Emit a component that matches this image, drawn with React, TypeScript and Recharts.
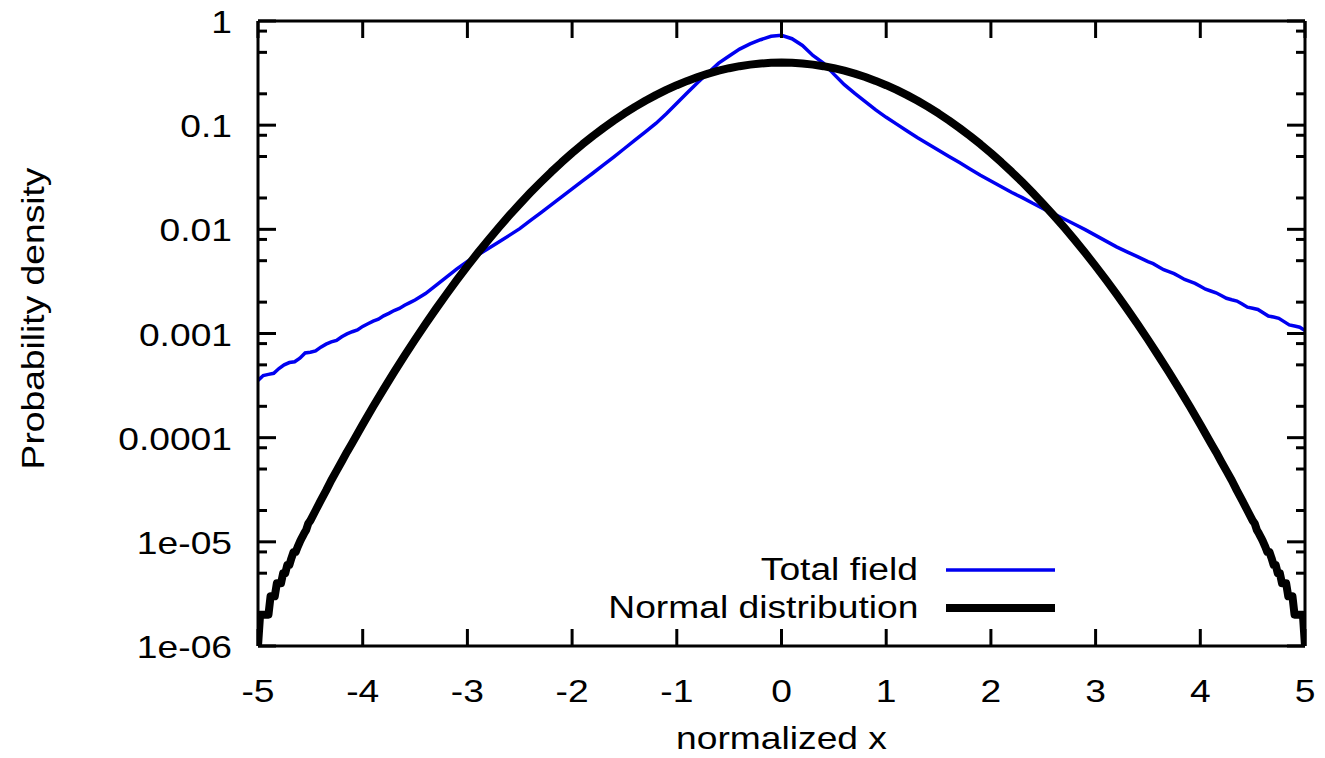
import React from 'react';
import { LineChart, Line, XAxis, YAxis, Legend } from 'recharts';

const FONT = '"Liberation Sans", Arial, Helvetica, sans-serif';
const FS = 31;
const SX = 1.2;
const M = 10; // tick margin used to locate the axis line inside custom ticks

const xTicks = [-5, -4, -3, -2, -1, 0, 1, 2, 3, 4, 5];
const yMajorTicks = [1e-6, 1e-5, 1e-4, 1e-3, 1e-2, 1e-1, 1];
const yTickLabels = ['1e-06', '1e-05', '0.0001', '0.001', '0.01', '0.1', '1'];
const yMinorTicks = [
  2e-6, 5e-6, 8e-6, 2e-5, 5e-5, 8e-5, 2e-4, 5e-4, 8e-4,
  2e-3, 5e-3, 8e-3, 0.02, 0.05, 0.08, 0.2, 0.5, 0.8,
];
const yAllTicks = [...yMajorTicks, ...yMinorTicks].sort((a, b) => a - b);

const seriesNames = ['Total field', 'Normal distribution'];

// Series 1: "Total field"
const fieldX = [
  -5, -4.95, -4.9, -4.85, -4.8, -4.75, -4.7, -4.65, -4.6, -4.55, -4.5, -4.45, -4.4, -4.35, -4.3, -4.25,
  -4.2, -4.15, -4.1, -4.05, -4, -3.95, -3.9, -3.85, -3.8, -3.75, -3.7, -3.65, -3.6, -3.55, -3.5,
  -3.4, -3.3, -3.2, -3.1, -3, -2.9, -2.8, -2.7, -2.6, -2.5, -2.4, -2.3, -2.2, -2.1, -2,
  -1.9, -1.8, -1.7, -1.6, -1.5, -1.4, -1.3, -1.2, -1.1, -1, -0.9, -0.8, -0.7, -0.6, -0.5,
  -0.4, -0.3, -0.2, -0.1, 0, 0.1, 0.2, 0.3, 0.4, 0.5, 0.6, 0.7, 0.8, 0.9, 1,
  1.1, 1.2, 1.3, 1.4, 1.5, 1.6, 1.7, 1.8, 1.9, 2, 2.1, 2.2, 2.3, 2.4, 2.5,
  2.6, 2.7, 2.8, 2.9, 3, 3.1, 3.2, 3.3, 3.4,
  3.5, 3.55, 3.6, 3.65, 3.7, 3.75, 3.8, 3.85, 3.9, 3.95, 4, 4.05, 4.1, 4.15, 4.2, 4.25,
  4.3, 4.35, 4.4, 4.45, 4.5, 4.55, 4.6, 4.65, 4.7, 4.75, 4.8, 4.85, 4.9, 4.95, 5,
];
const fieldY = [
  3.55e-4, 3.95e-4, 4.05e-4, 4.15e-4, 4.61e-4, 5.0e-4, 5.26e-4, 5.35e-4, 5.8e-4, 6.5e-4, 6.61e-4, 6.8e-4, 7.4e-4, 7.9e-4, 8.3e-4, 8.6e-4,
  9.31e-4, 0.99e-3, 1.04e-3, 1.08e-3, 1.17e-3, 1.24e-3, 1.315e-3, 1.37e-3, 1.476e-3, 1.56e-3, 1.66e-3, 1.74e-3, 1.866e-3, 1.98e-3, 2.1e-3,
  2.42e-3, 2.9e-3, 3.48e-3, 4.18e-3, 4.91e-3, 5.68e-3, 6.56e-3, 7.57e-3, 8.75e-3, 0.01016, 0.0121, 0.01442, 0.01718, 0.02046, 0.02443,
  0.02917, 0.03475, 0.0415, 0.0497, 0.0597, 0.0718, 0.0863, 0.1038, 0.1285, 0.1626, 0.2051, 0.257, 0.318, 0.394, 0.461,
  0.537, 0.603, 0.661, 0.714, 0.729, 0.676, 0.582, 0.467, 0.394, 0.309, 0.245, 0.2018, 0.1683, 0.1403, 0.1189,
  0.1023, 0.0879, 0.0759, 0.0661, 0.0575, 0.0501, 0.0437, 0.038, 0.0331, 0.0291, 0.0256, 0.02254, 0.02014, 0.01778, 0.01581,
  0.01409, 0.01256, 0.01119, 0.00993, 0.00875, 0.00771, 0.00679, 0.00608, 0.00546,
  4.89e-3, 4.68e-3, 4.38e-3, 4.1e-3, 3.92e-3, 3.75e-3, 3.52e-3, 3.3e-3, 3.16e-3, 3.03e-3, 2.84e-3, 2.66e-3, 2.56e-3, 2.46e-3, 2.32e-3, 2.18e-3,
  2.11e-3, 2.05e-3, 1.92e-3, 1.79e-3, 1.75e-3, 1.7e-3, 1.58e-3, 1.47e-3, 1.44e-3, 1.4e-3, 1.3e-3, 1.21e-3, 1.18e-3, 1.15e-3, 1.07e-3,
];

// Series 2: "Normal distribution" (values as printed, 6 decimals)
const normalX = [
  -5, -4.98, -4.96, -4.94, -4.92, -4.9, -4.88, -4.86, -4.84, -4.82, -4.8, -4.78, -4.76, -4.74, -4.72, -4.7,
  -4.68, -4.66, -4.64, -4.62, -4.6, -4.58, -4.56, -4.54, -4.52, -4.5,
  -4.45, -4.4, -4.35, -4.3, -4.25, -4.2, -4.15, -4.1, -4.05, -4,
  -3.9, -3.8, -3.7, -3.6, -3.5, -3.4, -3.3, -3.2, -3.1, -3, -2.9, -2.8, -2.7, -2.6, -2.5, -2.4, -2.3, -2.2, -2.1, -2,
  -1.9, -1.8, -1.7, -1.6, -1.5, -1.4, -1.3, -1.2, -1.1, -1, -0.9, -0.8, -0.7, -0.6, -0.5, -0.4, -0.3, -0.2, -0.1, 0,
  0.1, 0.2, 0.3, 0.4, 0.5, 0.6, 0.7, 0.8, 0.9, 1, 1.1, 1.2, 1.3, 1.4, 1.5, 1.6, 1.7, 1.8, 1.9, 2,
  2.1, 2.2, 2.3, 2.4, 2.5, 2.6, 2.7, 2.8, 2.9, 3, 3.1, 3.2, 3.3, 3.4, 3.5, 3.6, 3.7, 3.8, 3.9,
  4, 4.05, 4.1, 4.15, 4.2, 4.25, 4.3, 4.35, 4.4, 4.45,
  4.5, 4.52, 4.54, 4.56, 4.58, 4.6, 4.62, 4.64, 4.66, 4.68, 4.7, 4.72, 4.74, 4.76, 4.78, 4.8,
  4.82, 4.84, 4.86, 4.88, 4.9, 4.92, 4.94, 4.96, 4.98, 5,
];
const normalY = [
  1e-6, 2e-6, 2e-6, 2e-6, 2e-6, 2e-6, 3e-6, 3e-6, 3e-6, 4e-6, 4e-6, 4e-6, 5e-6, 5e-6, 6e-6, 6e-6,
  7e-6, 8e-6, 8e-6, 9e-6, 1e-5, 1.1e-5, 1.2e-5, 1.3e-5, 1.5e-5, 1.6e-5,
  2e-5, 2.5e-5, 3.1e-5, 3.9e-5, 4.8e-5, 5.9e-5, 7.3e-5, 8.9e-5, 1.09e-4, 1.34e-4,
  0.000199, 0.000292, 0.000425, 0.000612, 0.000873, 0.001232, 0.001723, 0.002384, 0.003267, 0.004432,
  0.005953, 0.007915, 0.010421, 0.013583, 0.017528, 0.022395, 0.028327, 0.035475, 0.043984, 0.053991,
  0.065616, 0.07895, 0.094049, 0.110921, 0.129518, 0.149727, 0.171369, 0.194186, 0.217852, 0.241971,
  0.266085, 0.289692, 0.312254, 0.333225, 0.352065, 0.36827, 0.381388, 0.391043, 0.396953, 0.398942,
  0.396953, 0.391043, 0.381388, 0.36827, 0.352065, 0.333225, 0.312254, 0.289692, 0.266085, 0.241971,
  0.217852, 0.194186, 0.171369, 0.149727, 0.129518, 0.110921, 0.094049, 0.07895, 0.065616, 0.053991,
  0.043984, 0.035475, 0.028327, 0.022395, 0.017528, 0.013583, 0.010421, 0.007915, 0.005953, 0.004432,
  0.003267, 0.002384, 0.001723, 0.001232, 0.000873, 0.000612, 0.000425, 0.000292, 0.000199,
  1.34e-4, 1.09e-4, 8.9e-5, 7.3e-5, 5.9e-5, 4.8e-5, 3.9e-5, 3.1e-5, 2.5e-5, 2e-5,
  1.6e-5, 1.5e-5, 1.3e-5, 1.2e-5, 1.1e-5, 1e-5, 9e-6, 8e-6, 8e-6, 7e-6, 6e-6, 6e-6, 5e-6, 5e-6, 4e-6, 4e-6,
  4e-6, 3e-6, 3e-6, 3e-6, 2e-6, 2e-6, 2e-6, 2e-6, 2e-6, 1e-6,
];

const fieldData = fieldX.map((x, i) => ({ x, y: fieldY[i] }));
const normalData = normalX.map((x, i) => ({ x, y: normalY[i] }));

const SERIES_STYLE: Record<string, { color: string; width: number }> = {
  'Total field': { color: '#0000f0', width: 3.5 },
  'Normal distribution': { color: '#000000', width: 8 },
};

const txt = (tx: number, ty: number, s: string, anchor: string) => (
  <text
    transform={`translate(${tx},${ty}) scale(${SX},1)`}
    textAnchor={anchor}
    fontFamily={FONT}
    fontSize={FS}
    fill="#000"
  >
    {s}
  </text>
);

const LeftTick = (props: any) => {
  const { x, y, payload } = props;
  const ax = x + M;
  const idx = yMajorTicks.indexOf(payload.value);
  const major = idx >= 0;
  return (
    <g>
      <line x1={ax} x2={ax + (major ? 18 : 9)} y1={y} y2={y} stroke="#000" strokeWidth={3} />
      {major && txt(ax - 26, y + 12, yTickLabels[idx], 'end')}
    </g>
  );
};

const RightTick = (props: any) => {
  const { x, y, payload } = props;
  const ax = x - M;
  const major = yMajorTicks.indexOf(payload.value) >= 0;
  return <line x1={ax} x2={ax - (major ? 18 : 9)} y1={y} y2={y} stroke="#000" strokeWidth={3} />;
};

const BottomTick = (props: any) => {
  const { x, y, payload } = props;
  const ay = y - M;
  return (
    <g>
      <line x1={x} x2={x} y1={ay} y2={ay - 17} stroke="#000" strokeWidth={3} />
      {txt(x, ay + 56, String(payload.value), 'middle')}
    </g>
  );
};

const TopTick = (props: any) => {
  const { x, y } = props;
  const ay = y + M;
  return <line x1={x} x2={x} y1={ay} y2={ay + 17} stroke="#000" strokeWidth={3} />;
};

const renderLegend = (props: any) => {
  const payload = [...(props.payload || [])].sort(
    (a: any, b: any) => seriesNames.indexOf(a.value) - seriesNames.indexOf(b.value)
  );
  return (
    <div style={{ width: 500 }}>
      {payload.map((entry: any) => {
        const st = SERIES_STYLE[entry.value] || { color: entry.color, width: 3 };
        return (
          <div
            key={entry.value}
            style={{ display: 'flex', alignItems: 'center', justifyContent: 'flex-end', height: 38 }}
          >
            <span
              style={{
                fontFamily: FONT,
                fontSize: FS,
                color: '#000',
                display: 'inline-block',
                transform: `scaleX(${SX})`,
                transformOrigin: 'right center',
                whiteSpace: 'nowrap',
                lineHeight: '38px',
              }}
            >
              {entry.value}
            </span>
            <svg width={137} height={14} style={{ display: 'block' }}>
              <line x1={28} x2={137} y1={7} y2={7} stroke={st.color} strokeWidth={st.width} />
            </svg>
          </div>
        );
      })}
    </div>
  );
};

export default function App() {
  return (
    <div style={{ position: 'absolute', left: 0, top: 0, background: '#fff' }}>
      <LineChart width={1325} height={758} margin={{ top: 11, right: 10, bottom: 52, left: 18 }}>
        <XAxis
          xAxisId="bottom"
          dataKey="x"
          type="number"
          domain={[-5, 5]}
          ticks={xTicks}
          interval={0}
          allowDataOverflow
          height={60}
          tickSize={0}
          tickMargin={M}
          tickLine={false}
          axisLine={{ stroke: '#000', strokeWidth: 3 }}
          tick={<BottomTick />}
          label={(p: any) => {
            const vb = p.viewBox || {};
            return txt(vb.x + vb.width / 2, vb.y + 103, 'normalized x', 'middle');
          }}
        />
        <XAxis
          xAxisId="top"
          orientation="top"
          dataKey="x"
          type="number"
          domain={[-5, 5]}
          ticks={xTicks}
          interval={0}
          allowDataOverflow
          height={10}
          tickSize={0}
          tickMargin={M}
          tickLine={false}
          axisLine={{ stroke: '#000', strokeWidth: 3 }}
          tick={<TopTick />}
        />
        <YAxis
          yAxisId="left"
          type="number"
          scale="log"
          domain={[1e-6, 1]}
          ticks={yAllTicks}
          interval={0}
          allowDataOverflow
          width={240}
          tickSize={0}
          tickMargin={M}
          tickLine={false}
          axisLine={{ stroke: '#000', strokeWidth: 3 }}
          tick={<LeftTick />}
          label={(p: any) => {
            const vb = p.viewBox || {};
            const cx = vb.x + 15;
            const cy = vb.y + vb.height / 2 - 15;
            return (
              <text
                transform={`translate(${cx},${cy}) rotate(-90) scale(${SX},1)`}
                textAnchor="middle"
                dominantBaseline="central"
                fontFamily={FONT}
                fontSize={FS}
                fill="#000"
              >
                Probability density
              </text>
            );
          }}
        />
        <YAxis
          yAxisId="right"
          orientation="right"
          type="number"
          scale="log"
          domain={[1e-6, 1]}
          ticks={yAllTicks}
          interval={0}
          allowDataOverflow
          width={10}
          tickSize={0}
          tickMargin={M}
          tickLine={false}
          axisLine={{ stroke: '#000', strokeWidth: 3 }}
          tick={<RightTick />}
        />
        <Legend
          layout="vertical"
          align="center"
          verticalAlign="middle"
          content={renderLegend}
          wrapperStyle={{ position: 'absolute', left: 555, top: 551, width: 500, height: 76 }}
        />
        <Line
          xAxisId="bottom"
          yAxisId="left"
          data={fieldData}
          dataKey="y"
          name="Total field"
          type="linear"
          stroke={SERIES_STYLE['Total field'].color}
          strokeWidth={SERIES_STYLE['Total field'].width}
          dot={false}
          activeDot={false}
          isAnimationActive={false}
        />
        <Line
          xAxisId="bottom"
          yAxisId="left"
          data={normalData}
          dataKey="y"
          name="Normal distribution"
          type="linear"
          stroke={SERIES_STYLE['Normal distribution'].color}
          strokeWidth={SERIES_STYLE['Normal distribution'].width}
          strokeLinejoin="round"
          dot={false}
          activeDot={false}
          isAnimationActive={false}
        />
      </LineChart>
    </div>
  );
}
